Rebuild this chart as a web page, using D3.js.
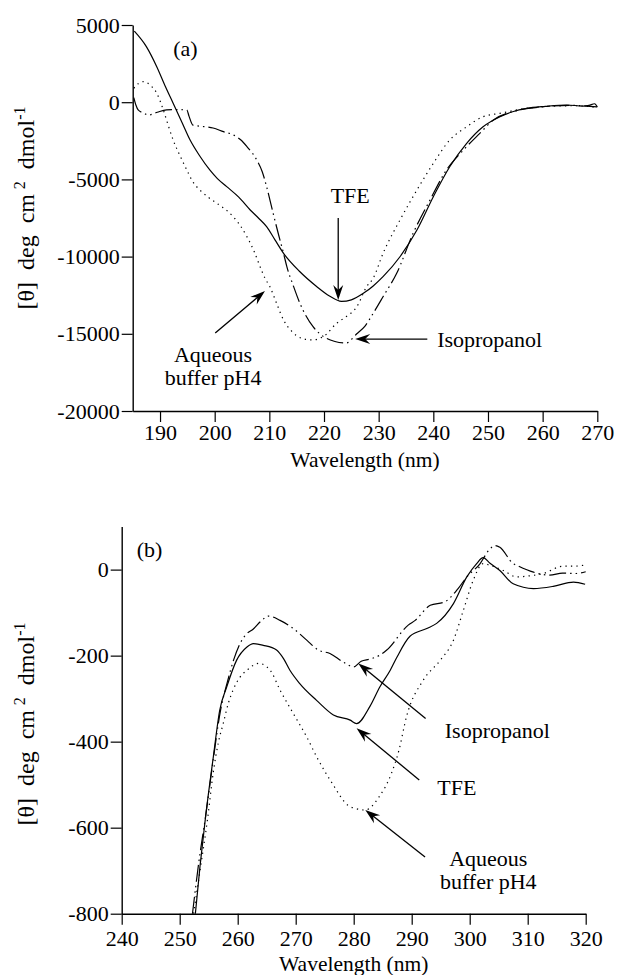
<!DOCTYPE html>
<html>
<head>
<meta charset="utf-8">
<script src="https://cdn.jsdelivr.net/npm/d3@7"></script>
<style>
  html, body { margin: 0; padding: 0; background: #fff; }
  svg text { font-family: "Liberation Serif", "Times New Roman", serif; fill: #000; }
</style>
</head>
<body>
<svg id="chart" width="618" height="975"></svg>
<script>
// ---- panel (a): far-UV CD, wavelength (nm) vs [theta]
const aXTicks = [190, 200, 210, 220, 230, 240, 250, 260, 270];
const aYTicks = [5000, 0, -5000, -10000, -15000, -20000];

const aTfe = [
  [185.3, 4600], [187.5, 3600], [189.4, 2300], [191, 1000], [192.4, -70], [194, -1300],
  [195.5, -2450], [197.3, -3500], [199.1, -4390], [200.5, -4950], [202.2, -5470], [204.4, -6150],
  [206.5, -6980], [208, -7500], [209.5, -8060], [211, -8900], [212.6, -9790], [215.5, -10950],
  [218.7, -11950], [221, -12550], [223.2, -12900], [225, -12800], [227.2, -12380], [229, -11900],
  [230.8, -11300], [233.9, -10010], [237, -8280], [240, -6120], [243, -4180], [246.1, -2660],
  [249.1, -1590], [252.2, -940], [254.5, -620], [257.1, -400], [260.5, -270], [264.4, -180],
  [267.4, -250], [268.5, -200], [269.5, -100], [270, -300]
];
const aAqueous = [
  [185.2, 900], [186, 1200], [187, 1330], [188.2, 1100], [189.4, 580], [190.6, -500],
  [191.5, -1500], [192.4, -2450], [193.7, -3500], [194.9, -4390], [196, -5150], [197.3, -5690],
  [198.8, -6150], [200.4, -6550], [202, -6950], [203.4, -7420], [204.7, -8000], [205.9, -8710],
  [207.2, -9650], [208.3, -10650], [209.2, -11400], [210.1, -11950], [211.3, -13000], [212.6, -14110],
  [214, -14800], [216, -15300], [217.8, -15400], [220, -15150], [222.3, -14320], [224, -13900],
  [226, -13250], [227.8, -11950], [229, -11400], [230.8, -9790], [233.9, -7630], [237, -5690],
  [240, -3960], [243, -2450], [246.1, -1590], [249.1, -940], [252.2, -720], [257, -400],
  [262, -250], [266, -230], [270, -350]
];
const aIsopropanol = [
  [185.2, 300], [185.6, -200], [186, -500], [187, -700], [187.9, -830], [189.5, -650],
  [191.2, -500], [193, -480], [194.9, -500], [195.3, -900], [196, -1480], [198, -1580],
  [199.7, -1670], [201.6, -1910], [203.4, -2120], [204.8, -2450], [205.9, -2880], [207.7, -3740],
  [208.7, -4500], [209.5, -5470], [210.7, -7200], [211.7, -8600], [212.6, -9790], [213.2, -10650],
  [214.4, -11900], [215.6, -13030], [218, -14540], [220, -15200], [222, -15500], [224, -15600],
  [226, -15000], [227.5, -14500], [229, -13670], [230.8, -12600], [233.3, -11080], [236.3, -8490],
  [239.4, -6330], [242.4, -4390], [245.5, -3100], [248.5, -2020], [251, -1150], [254.6, -610],
  [257, -420], [260, -300], [265, -200], [268, -250], [270, -300]
];

// ---- panel (b): near-UV CD
const bXTicks = [240, 250, 260, 270, 280, 290, 300, 310, 320];
const bYTicks = [0, -200, -400, -600, -800];

const bTfe = [
  [252.7, -800], [253.5, -690], [254.5, -570], [255.8, -435], [256.9, -327], [258.1, -273],
  [259.8, -211], [261.6, -180], [262.7, -172], [264.4, -176], [266.7, -187], [267.9, -207],
  [269, -234], [270.7, -265], [273.6, -304], [276.5, -338], [279.4, -350], [280.5, -358],
  [282.8, -318], [284.5, -273], [286.3, -234], [287.4, -205], [289.7, -155], [292.6, -137],
  [294.3, -125], [297.2, -79], [299.5, -17], [301.2, 14], [302.3, 28], [303.5, 15],
  [305.2, -2], [307.5, -33], [311, -44], [314.4, -39], [317.9, -29], [319.9, -34]
];
const bAqueous = [
  [252.4, -800], [253.5, -700], [254.8, -580], [255.8, -470], [256.7, -400], [257.5, -358],
  [258.4, -310], [259.2, -280], [260.4, -250], [261.6, -234], [263.6, -218], [265.6, -234],
  [267.3, -280], [269.6, -335], [271.9, -389], [273.6, -435], [276.3, -497], [279, -548],
  [280.5, -556], [282, -559], [284.4, -528], [286.5, -474], [287.8, -420], [289.1, -342],
  [292, -257], [294.9, -211], [297.2, -164], [298.9, -95], [300.6, -25], [302.3, 14],
  [303.5, 10], [305.8, -2], [308.1, -17], [310, -15], [312.7, -9], [316.1, 8], [318, 8], [319.6, 10]
];
const bIsopropanol = [
  [252.2, -800], [253.3, -680], [254.5, -570], [255.8, -440], [257, -330], [258.2, -262],
  [259.3, -210], [260.4, -172], [261.5, -150], [262.7, -138], [264, -120], [265.3, -108],
  [267.3, -118], [269.6, -137], [271.9, -164], [273.9, -187], [275.9, -195], [278.2, -215],
  [280, -226], [281.3, -213], [282.8, -208], [284.5, -199], [285.7, -187], [289.4, -129],
  [290.6, -118], [293.2, -83], [295.7, -75], [298, -44], [299.5, -17], [301.8, 14],
  [303.3, 45], [304.4, 56], [305.2, 52], [307.5, 14], [308.1, 10], [311, -6],
  [313.8, -13], [316, -8], [318.4, -9], [320, -5]
];

// line styles per solvent
const styles = {
  tfe: null,
  aqueous: '1.3,4.2',
  isopropanol: '17,4,1.5,4,1.5,4'
};

const svg = d3.select('#chart');

const panels = [
  {
    xDomain: [185, 270], yDomain: [-20000, 5000],
    left: 132.7, right: 597.3, top: 25, bottom: 411,
    xTicks: aXTicks, yTicks: aYTicks, xPad: 2.5,
    series: [[aTfe, 'tfe'], [aAqueous, 'aqueous'], [aIsopropanol, 'isopropanol']],
    tag: { text: '(a)', at: [192.4, 2990] },
    yLabelY: 208, xLabelY: 467,
    notes: [
      { tip: [222.6, -12810], tail: [222.6, -7500], lines: ['TFE'], at: [224.8, -6529], anchor: 'middle' },
      { tip: [225.7, -15340], tail: [238.9, -15340], lines: ['Isopropanol'], at: [240.7, -15855], anchor: 'start' },
      { tip: [209.2, -12230], tail: [200.1, -14950], lines: ['Aqueous', 'buffer pH4'], at: [199.7, -16830], anchor: 'middle' }
    ]
  },
  {
    xDomain: [240, 320], yDomain: [-800, 100],
    left: 121.7, right: 585.7, top: 526.6, bottom: 913.7,
    xTicks: bXTicks, yTicks: bYTicks, xPad: 5.8,
    series: [[bTfe, 'tfe'], [bAqueous, 'aqueous'], [bIsopropanol, 'isopropanol']],
    tag: { text: '(b)', at: [242.6, 29] },
    yLabelY: 724, xLabelY: 971,
    notes: [
      { tip: [280.8, -218], tail: [292.4, -346], lines: ['Isopropanol'], at: [295.7, -392], anchor: 'start' },
      { tip: [280.5, -369], tail: [291.3, -489], lines: ['TFE'], at: [294.4, -524], anchor: 'start' },
      { tip: [282, -559], tail: [292.3, -668], lines: ['Aqueous', 'buffer pH4'], at: [303.2, -689], anchor: 'middle' }
    ]
  }
];

function arrow(g, x1, y1, x2, y2) {
  // tail (x1,y1) -> tip (x2,y2), slim filled barbed head
  const ang = Math.atan2(y2 - y1, x2 - x1) * 180 / Math.PI;
  const len = Math.hypot(x2 - x1, y2 - y1);
  const a = g.append('g').attr('transform', `translate(${x2},${y2}) rotate(${ang})`);
  a.append('line')
    .attr('x1', -len).attr('y1', 0).attr('x2', -9).attr('y2', 0)
    .attr('stroke', '#000').attr('stroke-width', 1.3);
  a.append('path')
    .attr('d', 'M0,0 L-15,-5 L-10,0 L-15,5 Z')
    .attr('fill', '#000');
}

panels.forEach(p => {
  const x = d3.scaleLinear().domain(p.xDomain).range([p.left, p.right]);
  const y = d3.scaleLinear().domain(p.yDomain).range([p.bottom, p.top]);

  const xAxis = g => g
    .attr('transform', `translate(0,${p.bottom})`)
    .call(d3.axisBottom(x).tickValues(p.xTicks).tickSize(11).tickPadding(p.xPad)
      .tickSizeOuter(0).tickFormat(d => String(d)))
    .call(g => g.select('.domain').attr('stroke-width', 1.4))
    .call(g => g.selectAll('.tick line').attr('stroke-width', 1.2))
    .call(g => g.selectAll('.tick text').attr('font-size', 22)
      .attr('font-family', '"Liberation Serif", "Times New Roman", serif'));

  const yAxis = g => g
    .attr('transform', `translate(${p.left},0)`)
    .call(d3.axisLeft(y).tickValues(p.yTicks).tickSize(11).tickPadding(2)
      .tickSizeOuter(0).tickFormat(d => String(d)))
    .call(g => g.select('.domain').attr('stroke-width', 1.4))
    .call(g => g.selectAll('.tick line').attr('stroke-width', 1.2))
    .call(g => g.selectAll('.tick text').attr('font-size', 22)
      .attr('font-family', '"Liberation Serif", "Times New Roman", serif'));

  svg.append('g').call(xAxis);
  svg.append('g').call(yAxis);

  const line = d3.line()
    .x(d => x(d[0]))
    .y(d => y(d[1]))
    .curve(d3.curveMonotoneX);

  svg.append('g')
      .attr('fill', 'none')
      .attr('stroke', '#000')
      .attr('stroke-width', 1.2)
    .selectAll('path')
    .data(p.series)
    .join('path')
      .attr('stroke-dasharray', d => styles[d[1]])
      .attr('d', d => line(d[0]));

  // panel tag
  svg.append('text')
    .attr('x', x(p.tag.at[0])).attr('y', y(p.tag.at[1]))
    .attr('font-size', 22)
    .text(p.tag.text);

  // axis titles
  svg.append('text')
    .attr('x', (p.left + p.right) / 2).attr('y', p.xLabelY)
    .attr('text-anchor', 'middle').attr('font-size', 21.5)
    .text('Wavelength (nm)');

  const yl = svg.append('text')
    .attr('transform', `translate(34,${p.yLabelY}) rotate(-90)`)
    .attr('text-anchor', 'middle').attr('font-size', 24)
    .attr('word-spacing', 6);
  yl.append('tspan').text('[\u03b8] deg cm\u2009');
  yl.append('tspan').attr('dy', -9).attr('font-size', 16).text('2');
  yl.append('tspan').attr('dy', 9).text(' dmol');
  yl.append('tspan').attr('dy', -9).attr('font-size', 16).text('-1');

  // annotations
  const ann = svg.append('g');
  p.notes.forEach(n => {
    arrow(ann, x(n.tail[0]), y(n.tail[1]), x(n.tip[0]), y(n.tip[1]));
    const t = ann.append('text')
      .attr('x', x(n.at[0])).attr('y', y(n.at[1]))
      .attr('text-anchor', n.anchor).attr('font-size', 22);
    n.lines.forEach((s, i) => {
      t.append('tspan').attr('x', x(n.at[0])).attr('dy', i ? 23 : 0).text(s);
    });
  });
});
</script>
</body>
</html>
